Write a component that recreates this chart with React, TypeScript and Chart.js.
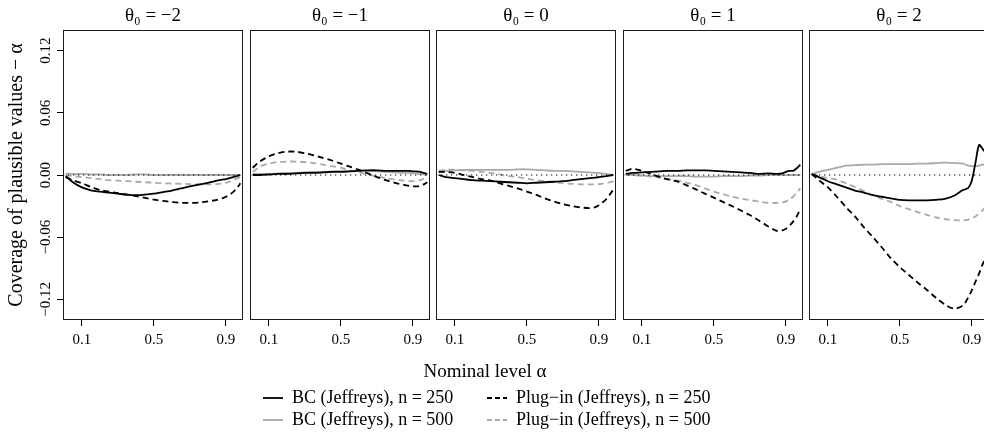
import React, { useEffect, useRef } from 'react';
import { Chart, registerables } from 'chart.js';

Chart.register(...registerables);

const FONT = "'Liberation Serif', 'Times New Roman', 'DejaVu Serif', serif";

// ---------- data ----------
const ALPHA = [0.01, 0.05, 0.1, 0.15, 0.2, 0.25, 0.3, 0.35, 0.4, 0.45, 0.5, 0.55, 0.6, 0.65, 0.7, 0.75, 0.8, 0.85, 0.88, 0.9, 0.92, 0.94, 0.96, 0.98];

const PANEL_TITLES = ['θ₀ = −2', 'θ₀ = −1', 'θ₀ = 0', 'θ₀ = 1', 'θ₀ = 2'];

const X_TICKS = [0.1, 0.5, 0.9];
const X_TICK_LABELS = ['0.1', '0.5', '0.9'];
const Y_TICKS = [-0.12, -0.06, 0, 0.06, 0.12];
const Y_TICK_LABELS = ['−0.12', '−0.06', '0.00', '0.06', '0.12'];
const X_RANGE = [-0.005, 0.995];
const Y_RANGE = [-0.14, 0.14];
const REF_LINE = [0, 0];

const X_TITLE = 'Nominal level α';
const Y_TITLE = 'Coverage of plausible values − α';

// theta0 = -2
const BC250_M2 = [-0.001, -0.007, -0.012, -0.0148, -0.016, -0.017, -0.018, -0.019, -0.0195, -0.019, -0.018, -0.0165, -0.015, -0.013, -0.011, -0.0093, -0.0075, -0.0055, -0.0045, -0.004, -0.003, -0.002, -0.001, 0];
const BC500_M2 = [0.0015, 0.001, 0.001, 0.0005, 0.0005, 0, 0, 0, 0.0005, 0.0005, 0, 0, 0, 0, 0, 0, 0, 0, 0, 0, 0, 0, 0, 0];
const PI250_M2 = [-0.002, -0.005, -0.008, -0.0115, -0.0145, -0.016, -0.0175, -0.019, -0.0205, -0.022, -0.0238, -0.025, -0.026, -0.0268, -0.027, -0.0266, -0.0255, -0.024, -0.0225, -0.021, -0.019, -0.0165, -0.013, -0.008];
const PI500_M2 = [0, -0.001, -0.002, -0.003, -0.004, -0.005, -0.0055, -0.006, -0.0065, -0.007, -0.0075, -0.008, -0.0082, -0.0085, -0.0088, -0.009, -0.009, -0.0088, -0.0082, -0.0075, -0.0065, -0.005, -0.0035, -0.002];

// theta0 = -1
const BC250_M1 = [0, 0, 0.0005, 0.001, 0.001, 0.0015, 0.002, 0.002, 0.0025, 0.003, 0.003, 0.0035, 0.004, 0.0045, 0.0045, 0.004, 0.004, 0.004, 0.004, 0.0035, 0.0035, 0.003, 0.002, 0.001];
const BC500_M1 = [0.001, 0.001, 0.001, 0.0015, 0.002, 0.002, 0.0025, 0.003, 0.003, 0.0035, 0.004, 0.004, 0.0045, 0.004, 0.0035, 0.003, 0.0025, 0.002, 0.002, 0.0015, 0.0015, 0.001, 0.0005, 0];
const PI250_M1 = [0.007, 0.013, 0.018, 0.021, 0.0225, 0.0225, 0.021, 0.019, 0.0165, 0.014, 0.011, 0.008, 0.005, 0.0015, -0.002, -0.005, -0.0075, -0.0095, -0.0105, -0.011, -0.011, -0.0105, -0.009, -0.007];
const PI500_M1 = [0.003, 0.008, 0.011, 0.0125, 0.013, 0.013, 0.0125, 0.0115, 0.01, 0.0085, 0.007, 0.0045, 0.0025, 0.0005, -0.0015, -0.003, -0.0045, -0.0055, -0.006, -0.006, -0.0058, -0.005, -0.0035, -0.002];

// theta0 = 0
const BC250_0 = [0, -0.002, -0.003, -0.004, -0.005, -0.0055, -0.006, -0.0065, -0.007, -0.0075, -0.008, -0.0075, -0.007, -0.0065, -0.006, -0.005, -0.004, -0.003, -0.0025, -0.002, -0.0015, -0.001, -0.0005, 0];
const BC500_0 = [0.003, 0.004, 0.0045, 0.005, 0.005, 0.005, 0.005, 0.005, 0.005, 0.0055, 0.0055, 0.005, 0.0045, 0.004, 0.004, 0.0035, 0.003, 0.0025, 0.002, 0.002, 0.0015, 0.001, 0.0005, 0];
const PI250_0 = [0.003, 0.003, 0.002, 0, -0.002, -0.004, -0.0055, -0.008, -0.0106, -0.013, -0.016, -0.019, -0.0226, -0.0255, -0.028, -0.03, -0.0313, -0.032, -0.031, -0.029, -0.0265, -0.0235, -0.019, -0.014];
const PI500_0 = [0.004, 0.005, 0.005, 0.0045, 0.004, 0.003, 0.002, 0.0005, -0.001, -0.002, -0.0035, -0.005, -0.006, -0.007, -0.008, -0.0085, -0.009, -0.009, -0.009, -0.0088, -0.0083, -0.0078, -0.007, -0.006];

// theta0 = 1
const BC250_P1 = [0.001, 0.002, 0.0025, 0.003, 0.0035, 0.004, 0.004, 0.0045, 0.0045, 0.0045, 0.004, 0.0035, 0.003, 0.0025, 0.002, 0.001, 0.0015, 0.001, 0.0015, 0.003, 0.004, 0.004, 0.0065, 0.01];
const BC500_P1 = [0, 0, -0.0005, -0.001, -0.001, -0.001, -0.001, -0.001, -0.0015, -0.0015, -0.0015, -0.001, -0.001, -0.001, -0.0005, -0.0005, 0, 0, 0, 0, 0, 0, 0, 0];
const PI250_P1 = [0.004, 0.006, 0.004, 0.001, -0.002, -0.0045, -0.0065, -0.01, -0.0139, -0.018, -0.0219, -0.026, -0.03, -0.0343, -0.0387, -0.044, -0.0494, -0.054, -0.0535, -0.052, -0.049, -0.045, -0.04, -0.033];
const PI500_P1 = [0.001, 0, -0.0005, -0.0015, -0.0025, -0.004, -0.0055, -0.0075, -0.0097, -0.013, -0.016, -0.0185, -0.021, -0.0228, -0.0242, -0.0257, -0.0268, -0.027, -0.0265, -0.0255, -0.0235, -0.021, -0.017, -0.013];

// theta0 = 2
const BC250_P2 = [0.001, -0.002, -0.006, -0.009, -0.012, -0.015, -0.017, -0.0195, -0.021, -0.0225, -0.024, -0.0245, -0.0245, -0.0245, -0.024, -0.023, -0.02, -0.0145, -0.0125, -0.005, 0.012, 0.029, 0.025, 0.021];
const BC500_P2 = [0.001, 0.003, 0.005, 0.007, 0.009, 0.0095, 0.01, 0.01, 0.0105, 0.0105, 0.0105, 0.0105, 0.011, 0.011, 0.0115, 0.012, 0.0115, 0.011, 0.009, 0.0085, 0.0085, 0.009, 0.01, 0.011];
const PI250_P2 = [0.001, -0.005, -0.012, -0.021, -0.031, -0.04, -0.0505, -0.06, -0.07, -0.0804, -0.089, -0.0966, -0.104, -0.111, -0.1185, -0.125, -0.129, -0.126, -0.118, -0.111, -0.103, -0.095, -0.086, -0.078];
const PI500_P2 = [0.001, -0.001, -0.003, -0.0045, -0.008, -0.0115, -0.0155, -0.0195, -0.023, -0.026, -0.03, -0.033, -0.0358, -0.0385, -0.041, -0.0425, -0.0436, -0.0438, -0.043, -0.0415, -0.04, -0.037, -0.034, -0.03];

const BC_250 = [BC250_M2, BC250_M1, BC250_0, BC250_P1, BC250_P2];
const PI_250 = [PI250_M2, PI250_M1, PI250_0, PI250_P1, PI250_P2];
const BC_500 = [BC500_M2, BC500_M1, BC500_0, BC500_P1, BC500_P2];
const PI_500 = [PI500_M2, PI500_M1, PI500_0, PI500_P1, PI500_P2];

const BLACK = '#000000';
const GREY = '#a9a9a9';

// order: first is drawn on top
const SERIES = [
  { label: 'BC (Jeffreys), n = 250', color: BLACK, dash: [] as number[], values: BC_250 },
  { label: 'Plug−in (Jeffreys), n = 250', color: BLACK, dash: [6, 4], values: PI_250 },
  { label: 'BC (Jeffreys), n = 500', color: GREY, dash: [] as number[], values: BC_500 },
  { label: 'Plug−in (Jeffreys), n = 500', color: GREY, dash: [6, 4], values: PI_500 },
];

// ---------- layout ----------
const PANEL_LEFT = [63, 250, 436, 623, 809];
const PANEL_W = 180;
const AXIS_W = 63;
const RIGHT_PAD = 12;
const TITLE_H = 30;
const PLOT_H = 290;
const XAXIS_H = 30;
const CANVAS_W = AXIS_W + PANEL_W + RIGHT_PAD;
const CANVAS_H = TITLE_H + PLOT_H + XAXIS_H;

const boxPlugin = {
  id: 'panelBox',
  afterDatasetsDraw(chart: any) {
    const { ctx, chartArea: a } = chart;
    ctx.save();
    ctx.strokeStyle = '#1a1a1a';
    ctx.lineWidth = 1;
    ctx.setLineDash([]);
    ctx.strokeRect(Math.round(a.left) + 0.5, Math.round(a.top) + 0.5, Math.round(a.right - a.left) - 1, Math.round(a.bottom - a.top) - 1);
    ctx.restore();
  },
};

function panelConfig(p: number): any {
  const first = p === 0;
  const datasets: any[] = [
    {
      label: 'zero',
      data: X_RANGE.map((x, i) => ({ x, y: REF_LINE[i] })),
      borderColor: BLACK,
      borderWidth: 1.2,
      borderDash: [1.3, 3.7],
      tension: 0,
    },
    ...SERIES.map((s) => ({
      label: s.label,
      data: ALPHA.map((x, i) => ({ x, y: s.values[p][i] })),
      borderColor: s.color,
      borderWidth: 1.8,
      borderDash: s.dash,
      tension: 0.3,
    })),
  ];
  return {
    type: 'line',
    data: { datasets },
    plugins: [boxPlugin],
    options: {
      animation: false,
      responsive: false,
      events: [],
      layout: { padding: { left: 0, right: RIGHT_PAD, top: 0, bottom: 0 } },
      elements: { point: { radius: 0 }, line: { borderCapStyle: 'butt' } },
      plugins: {
        legend: { display: false },
        tooltip: { enabled: false },
        title: {
          display: true,
          fullSize: false,
          text: PANEL_TITLES[p],
          color: BLACK,
          font: { family: FONT, size: 19, weight: 'normal' },
          padding: { top: 5, bottom: 2.2 },
        },
      },
      scales: {
        x: {
          type: 'linear',
          min: X_RANGE[0],
          max: X_RANGE[1],
          afterBuildTicks: (s: any) => {
            s.ticks = X_TICKS.map((v) => ({ value: v }));
          },
          afterFit: (s: any) => {
            s.height = XAXIS_H;
          },
          ticks: {
            color: BLACK,
            font: { family: FONT, size: 15 },
            padding: 5,
            maxRotation: 0,
            autoSkip: false,
            callback: (_v: any, i: number) => X_TICK_LABELS[i],
          },
          grid: { display: true, drawOnChartArea: false, drawTicks: true, tickLength: 6, color: BLACK, tickColor: BLACK },
          border: { display: false },
        },
        y: {
          type: 'linear',
          display: true,
          min: Y_RANGE[0],
          max: Y_RANGE[1],
          afterBuildTicks: (s: any) => {
            s.ticks = Y_TICKS.map((v) => ({ value: v }));
          },
          afterFit: (s: any) => {
            s.width = AXIS_W;
          },
          ticks: {
            display: first,
            color: BLACK,
            font: { family: FONT, size: 15 },
            minRotation: 90,
            maxRotation: 90,
            crossAlign: 'center',
            padding: -6,
            autoSkip: false,
            callback: (_v: any, i: number) => Y_TICK_LABELS[i],
          },
          grid: { display: first, drawOnChartArea: false, drawTicks: true, tickLength: 6, color: BLACK, tickColor: BLACK },
          border: { display: false },
          title: {
            display: first,
            text: Y_TITLE,
            color: BLACK,
            font: { family: FONT, size: 20 },
            padding: { top: 5, bottom: 0 },
          },
        },
      },
    },
  };
}

function legendConfig(items: typeof SERIES): any {
  return {
    type: 'line',
    data: {
      datasets: items.map((s) => ({
        label: s.label,
        data: [],
        borderColor: s.color,
        backgroundColor: s.color,
        borderWidth: 1.8,
        borderDash: s.dash.length ? [5, 3] : [],
      })),
    },
    options: {
      animation: false,
      responsive: false,
      events: [],
      scales: { x: { display: false }, y: { display: false } },
      plugins: {
        tooltip: { enabled: false },
        legend: {
          display: true,
          position: 'top',
          align: 'start',
          labels: {
            usePointStyle: true,
            pointStyle: 'line',
            pointStyleWidth: 20,
            color: BLACK,
            font: { family: FONT, size: 18 },
            padding: 4,
            generateLabels: (chart: any) => {
              const base = Chart.defaults.plugins.legend.labels.generateLabels(chart);
              return base.map((item: any, i: number) => {
                const ds = chart.data.datasets[i];
                return { ...item, lineDash: ds.borderDash, lineWidth: ds.borderWidth, strokeStyle: ds.borderColor, fillStyle: ds.borderColor };
              });
            },
          },
        },
      },
    },
  };
}

function titleConfig(): any {
  return {
    type: 'line',
    data: { datasets: [] },
    options: {
      animation: false,
      responsive: false,
      events: [],
      scales: { x: { display: false }, y: { display: false } },
      plugins: {
        legend: { display: false },
        tooltip: { enabled: false },
        title: {
          display: true,
          text: X_TITLE,
          color: BLACK,
          font: { family: FONT, size: 19, weight: 'normal' },
          padding: { top: 5.6, bottom: 0 },
        },
      },
    },
  };
}

function ChartCanvas(props: { make: () => any; left: number; top: number; width: number; height: number }) {
  const ref = useRef<HTMLCanvasElement | null>(null);
  useEffect(() => {
    if (!ref.current) return;
    const chart = new Chart(ref.current, props.make());
    return () => chart.destroy();
  }, []);
  return (
    <canvas
      ref={ref}
      width={props.width}
      height={props.height}
      style={{ position: 'absolute', left: props.left, top: props.top, width: props.width, height: props.height }}
    />
  );
}

export default function App() {
  return (
    <div style={{ position: 'absolute', left: 0, top: 0, width: 984, height: 435, overflow: 'hidden', background: '#ffffff' }}>
      {PANEL_LEFT.map((pl, p) => (
        <ChartCanvas key={p} make={() => panelConfig(p)} left={pl - AXIS_W} top={0} width={CANVAS_W} height={CANVAS_H} />
      ))}
      <ChartCanvas make={titleConfig} left={285} top={355} width={400} height={40} />
      <ChartCanvas make={() => legendConfig([SERIES[0], SERIES[2]])} left={259} top={385} width={228} height={120} />
      <ChartCanvas make={() => legendConfig([SERIES[1], SERIES[3]])} left={483} top={385} width={270} height={120} />
    </div>
  );
}
